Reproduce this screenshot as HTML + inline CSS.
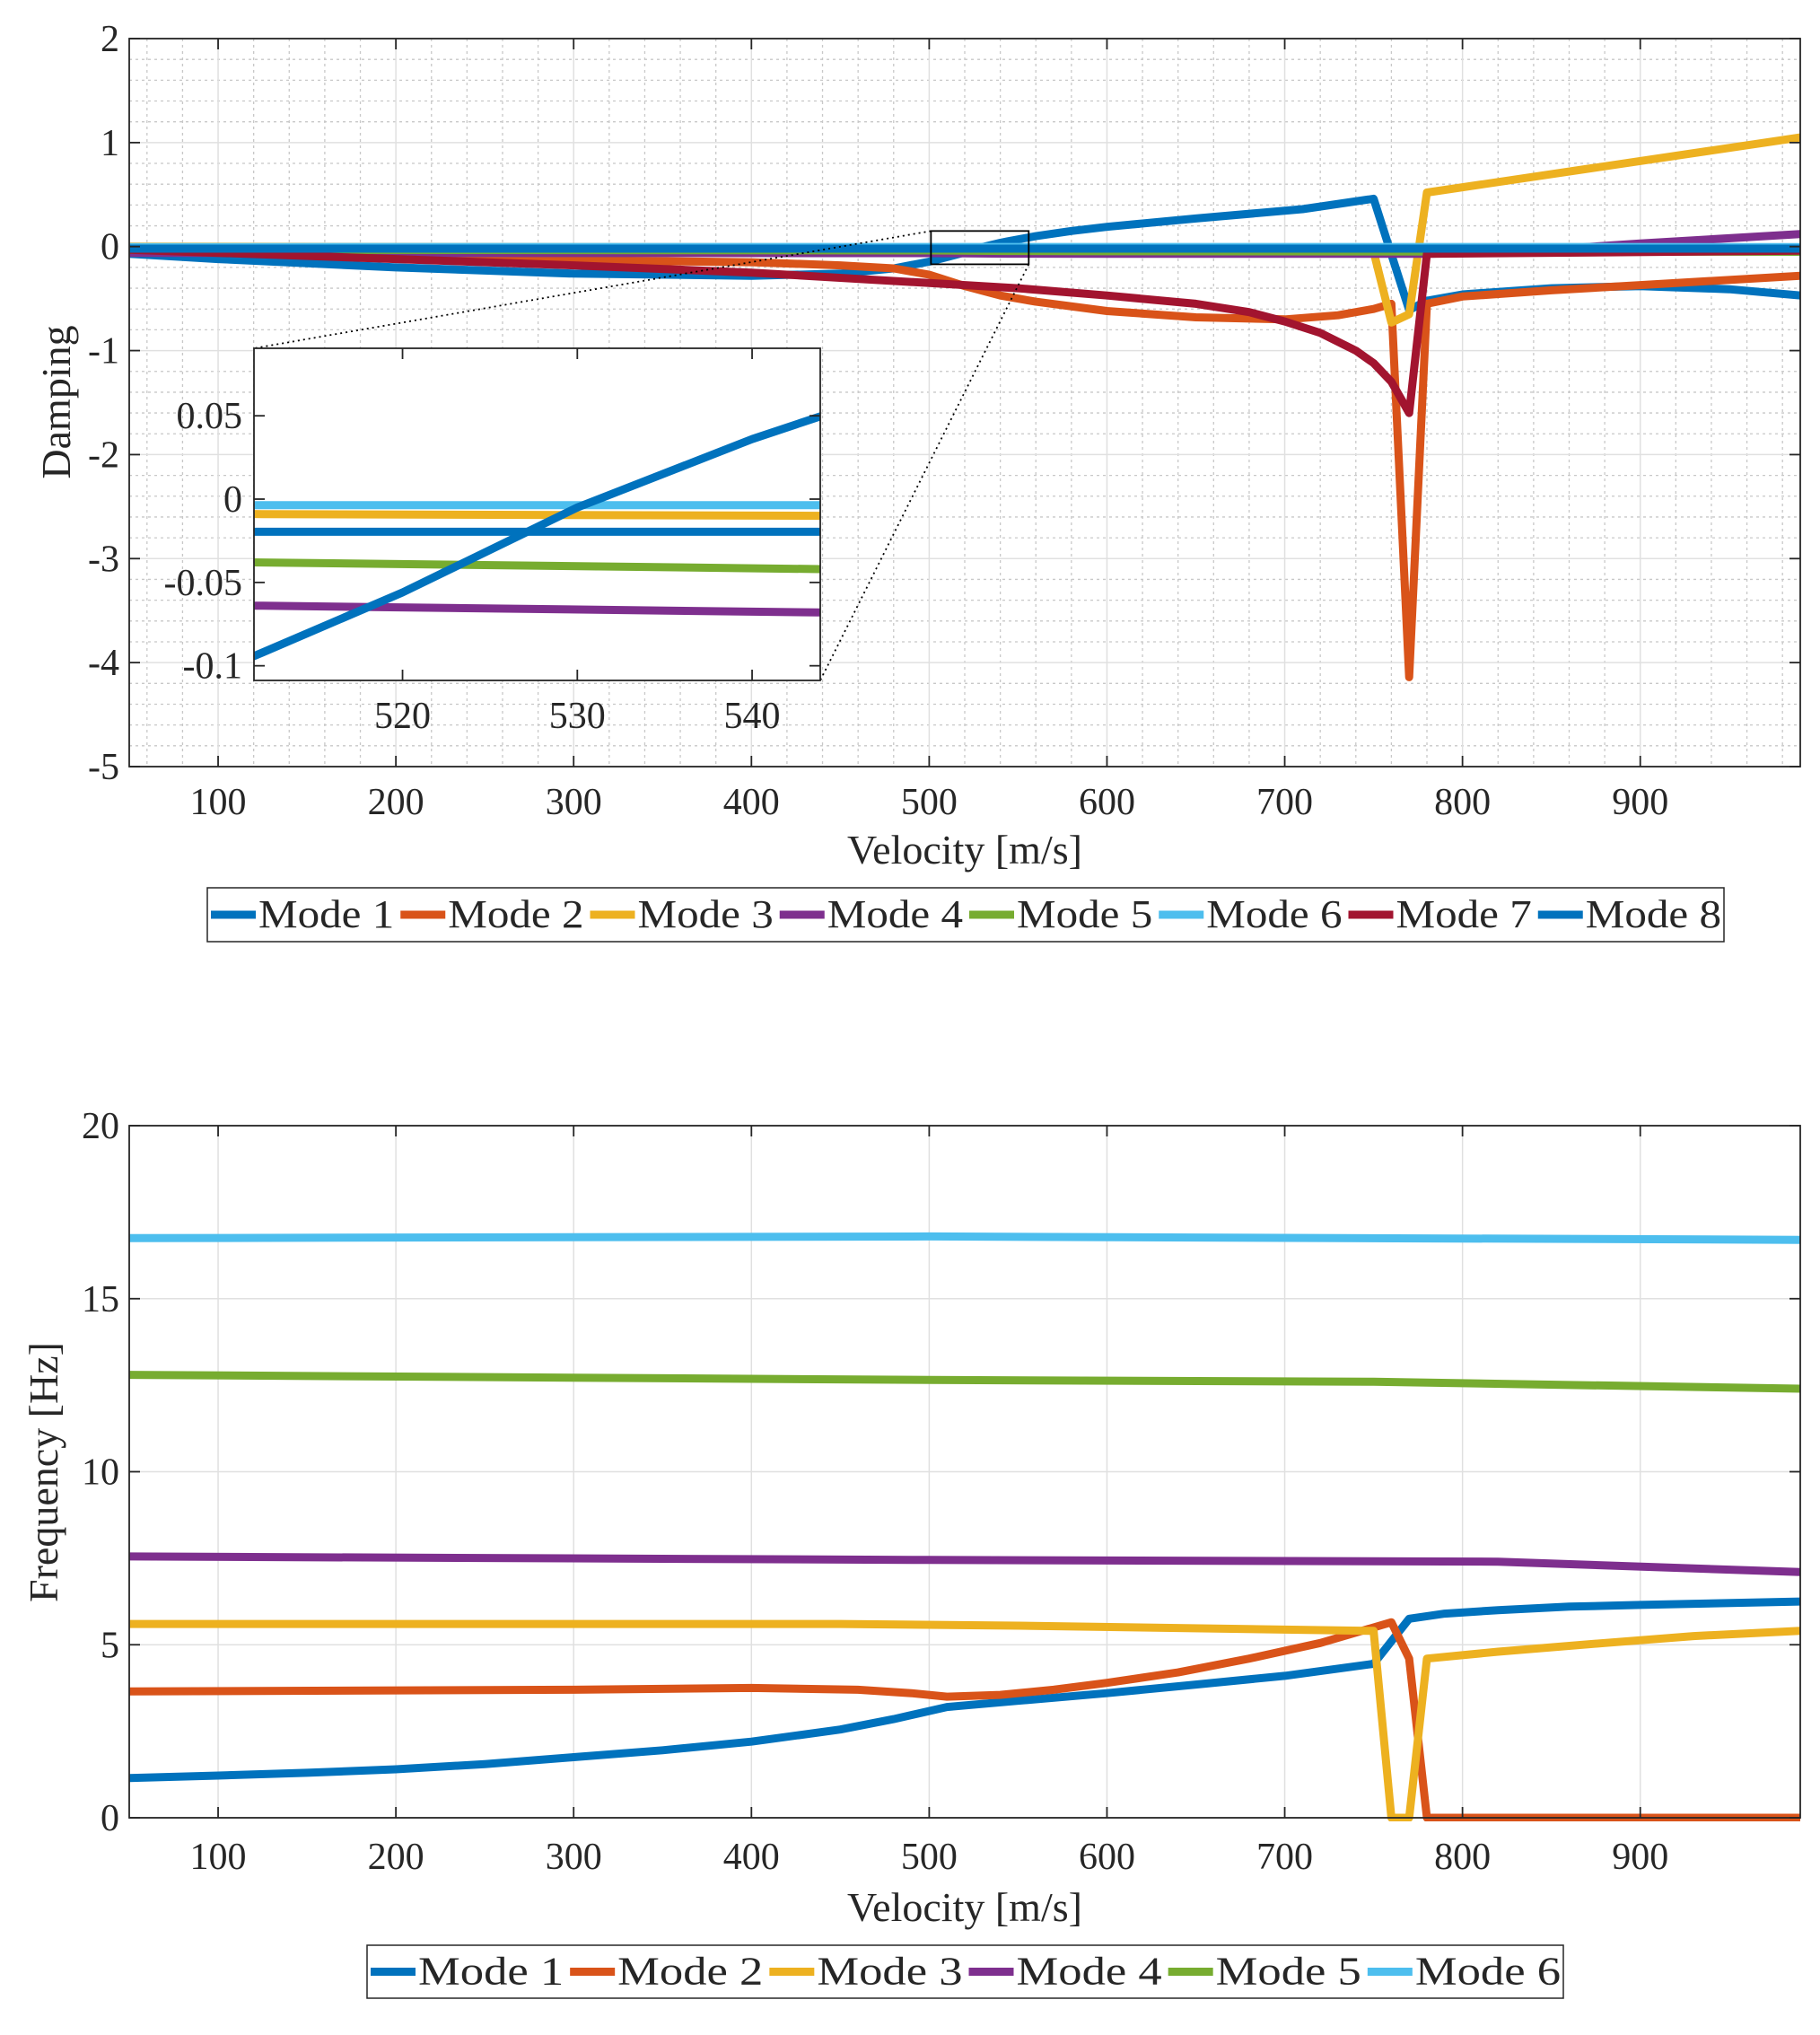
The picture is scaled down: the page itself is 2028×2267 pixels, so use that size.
<!DOCTYPE html>
<html><head><meta charset="utf-8"><style>
html,body{margin:0;padding:0;background:#fff;}
svg text{font-family:"Liberation Serif",serif;fill:#262626;}
</style></head><body>
<svg id="fig" width="2028" height="2262" viewBox="0 0 2028 2262" xmlns="http://www.w3.org/2000/svg">
<rect width="2028" height="2262" fill="#fff"/>
<g id="topChart"></g>
<g id="botChart"></g>
</svg>
<script>
// ---- Damping data ----
const colors = ["#0072BD","#D95319","#EDB120","#7E2F8E","#77AC30","#4DBEEE","#A2142F","#0072BD"];
const modeNames = ["Mode 1","Mode 2","Mode 3","Mode 4","Mode 5","Mode 6","Mode 7","Mode 8"];
const xTicks = [100,200,300,400,500,600,700,800,900];
const dampTicks = [2,1,0,-1,-2,-3,-4,-5];
const freqTicks = [20,15,10,5,0];
const insetXTicks = [520,530,540];
const insetYTicks = [0.05,0,-0.05,-0.1];
const insetYLabels = ["0.05","0","-0.05","-0.1"];

const d1v = [50,100,200,300,400,450,480,500,512,520,530,540,544,560,580,600,650,710,750,770,780,800,850,900,950,990];
const d1y = [-0.07,-0.12,-0.2,-0.26,-0.28,-0.26,-0.21,-0.145,-0.092,-0.056,-0.005,0.036,0.05,0.1,0.15,0.19,0.27,0.36,0.46,-0.61,-0.52,-0.46,-0.4,-0.38,-0.41,-0.47];
const d2v = [50,200,300,400,450,480,500,520,540,560,600,650,700,730,750,760,770,780,800,850,900,990];
const d2y = [-0.04,-0.1,-0.13,-0.15,-0.18,-0.21,-0.27,-0.38,-0.47,-0.53,-0.62,-0.68,-0.7,-0.66,-0.6,-0.55,-4.14,-0.55,-0.48,-0.42,-0.37,-0.28];
const d3v = [50,300,500,512,544,600,750,760,770,780,990];
const d3y = [0,-0.005,-0.008,-0.009,-0.010,-0.012,-0.05,-0.73,-0.65,0.52,1.05];
const d4v = [50,500,512,544,600,780,830,900,990];
const d4y = [-0.06,-0.063,-0.064,-0.068,-0.07,-0.07,-0.05,0.03,0.12];
const d5v = [50,500,512,544,600,990];
const d5y = [-0.03,-0.037,-0.038,-0.042,-0.045,-0.05];
const d6v = [50,500,544,990];
const d6y = [-0.004,-0.0036,-0.0036,-0.004];
const d7v = [50,200,300,400,500,550,600,650,680,700,720,740,750,760,765,770,780,990];
const d7y = [-0.03,-0.12,-0.18,-0.25,-0.35,-0.4,-0.47,-0.55,-0.63,-0.72,-0.83,-1.0,-1.12,-1.3,-1.45,-1.6,-0.07,-0.04];
const d8v = [50,500,544,990];
const d8y = [-0.0196,-0.0196,-0.0196,-0.0196];

// ---- Frequency data ----
const f1v = [50,100,150,200,250,300,350,400,450,480,510,550,600,650,700,750,770,790,820,860,900,990];
const f1y = [1.15,1.22,1.3,1.4,1.55,1.75,1.95,2.2,2.55,2.85,3.2,3.38,3.6,3.85,4.1,4.45,5.75,5.9,6.0,6.1,6.15,6.25];
const f2v = [50,300,400,460,490,510,540,570,600,640,680,720,760,770,780,990];
const f2y = [3.65,3.7,3.75,3.7,3.6,3.5,3.55,3.7,3.9,4.2,4.6,5.05,5.65,4.6,0,0];
const f3v = [50,450,550,750,760,770,780,820,880,930,990];
const f3y = [5.6,5.6,5.55,5.4,0,0,4.6,4.8,5.05,5.25,5.4];
const f4v = [50,500,820,990];
const f4y = [7.55,7.45,7.4,7.1];
const f5v = [50,500,750,990];
const f5y = [12.8,12.65,12.6,12.4];
const f6v = [50,500,990];
const f6y = [16.75,16.8,16.7];

const NS="http://www.w3.org/2000/svg";
const LW=9;
function mk(parent,tag,attrs,text){const e=document.createElementNS(NS,tag);for(const k in attrs)e.setAttribute(k,attrs[k]);if(text!==undefined)e.textContent=text;parent.appendChild(e);return e;}
function scale(d0,d1,r0,r1){return v=>r0+(v-d0)/(d1-d0)*(r1-r0);}
function pathD(vs,ys,sx,sy){return vs.map((v,i)=>(i?"L":"M")+sx(vs[i]).toFixed(1)+","+sy(ys[i]).toFixed(1)).join(" ");}

function drawGrid(g,L,R,T,B,sx,sy,xt,yt,minor,xmax){
  if(minor){
    for(let v=60;v<xmax;v+=20){if(v%100===0)continue;const l=mk(g,"line",{x1:sx(v),x2:sx(v),y1:T,y2:B,stroke:"#c8c8c8","stroke-width":1.3,"stroke-dasharray":"3,4"});}
    for(let k=-50;k<=20;k+=2){if(k%10===0)continue;const v=k/10;const l=mk(g,"line",{x1:L,x2:R,y1:sy(v),y2:sy(v),stroke:"#c8c8c8","stroke-width":1.3,"stroke-dasharray":"3,4"});}
  }
  xt.forEach(v=>{const l=mk(g,"line",{x1:sx(v),x2:sx(v),y1:T,y2:B,stroke:"#e0e0e0","stroke-width":1.5});});
  yt.forEach(v=>{const l=mk(g,"line",{x1:L,x2:R,y1:sy(v),y2:sy(v),stroke:"#e0e0e0","stroke-width":1.5});});
}
function drawFrame(g,L,R,T,B,sx,sy,xt,yt,ylabels,fs,xlabY,yRight){
  const f=mk(g,"rect",{x:L,y:T,width:R-L,height:B-T,fill:"none",stroke:"#262626","stroke-width":1.8});
  
  xt.forEach(v=>{
    mk(g,"line",{x1:sx(v),x2:sx(v),y1:B,y2:B-12,stroke:"#262626","stroke-width":1.8});
    mk(g,"line",{x1:sx(v),x2:sx(v),y1:T,y2:T+12,stroke:"#262626","stroke-width":1.8});
    const t=mk(g,"text",{x:sx(v),y:xlabY,"text-anchor":"middle","font-size":fs},String(v));
    
  });
  yt.forEach((v,i)=>{
    mk(g,"line",{x1:L,x2:L+12,y1:sy(v),y2:sy(v),stroke:"#262626","stroke-width":1.8});
    mk(g,"line",{x1:R,x2:R-12,y1:sy(v),y2:sy(v),stroke:"#262626","stroke-width":1.8});
    const t=mk(g,"text",{x:yRight,y:sy(v)+14,"text-anchor":"end","font-size":fs},ylabels[i]);
    
  });
}
function drawSeries(g,series,sx,sy,w,clipId){
  series.forEach((s,i)=>{
    const p=mk(g,"path",{d:pathD(s[0],s[1],sx,sy),fill:"none",stroke:s[2],"stroke-width":w,"stroke-linejoin":"round","clip-path":"url(#"+clipId+")"});
    
    
  });
}
function drawLegend(g,x0,y0,w,h,n){
  const b=mk(g,"rect",{x:x0,y:y0,width:w,height:h,fill:"#fff",stroke:"#262626","stroke-width":1.5});
  
  const step=w/n;
  for(let i=0;i<n;i++){
    const ex=x0+4+i*step;
    const gg=mk(g,"g",{});
    
    
    mk(gg,"line",{x1:ex,x2:ex+50,y1:y0+h/2,y2:y0+h/2,stroke:colors[i],"stroke-width":LW});
    mk(gg,"text",{x:ex+53,y:y0+h/2+14,"font-size":44,"textLength":step-60,"lengthAdjust":"spacingAndGlyphs"},modeNames[i]);
  }
}

const svgEl=document.getElementById("fig");
const defs=mk(svgEl,"defs",{});
// ===== Top chart =====
const topG=document.getElementById("topChart");
const L=144,R=2006,T=43,B=854;
const sx=scale(50,990,L,R), sy=scale(2,-5,T,B);
const c1=mk(defs,"clipPath",{id:"clipTop"});mk(c1,"rect",{x:L,y:T,width:R-L,height:B-T});
drawGrid(topG,L,R,T,B,sx,sy,xTicks,dampTicks,true,990);
const dampSeries=[[d1v,d1y,colors[0]],[d2v,d2y,colors[1]],[d3v,d3y,colors[2]],[d4v,d4y,colors[3]],[d5v,d5y,colors[4]],[d6v,d6y,colors[5]],[d7v,d7y,colors[6]],[d8v,d8y,colors[7]]];
drawSeries(topG,dampSeries,sx,sy,LW,"clipTop");
drawFrame(topG,L,R,T,B,sx,sy,xTicks,dampTicks,dampTicks.map(String),42,907,133);
let tx=mk(topG,"text",{x:(L+R)/2,y:962,"text-anchor":"middle","font-size":46},"Velocity [m/s]");

tx=mk(topG,"text",{x:0,y:0,"text-anchor":"middle","font-size":46,transform:"translate(78,448) rotate(-90)"},"Damping");


// zoom rectangle + connectors
const zx0=sx(501),zx1=sx(556),zy0=sy(0.15),zy1=sy(-0.17);
const IL=283,IR=914,IT=388,IB=758;
const zr=mk(topG,"rect",{x:zx0,y:zy0,width:zx1-zx0,height:zy1-zy0,fill:"none",stroke:"#000","stroke-width":1.8});

let cl=mk(topG,"line",{x1:zx0,y1:zy0,x2:IL,y2:IT,stroke:"#000","stroke-width":1.8,"stroke-dasharray":"2,4"});

cl=mk(topG,"line",{x1:zx1,y1:zy1,x2:IR,y2:IB,stroke:"#000","stroke-width":1.8,"stroke-dasharray":"2,4"});


// inset
const ins=mk(topG,"g",{});


mk(ins,"rect",{x:IL,y:IT,width:IR-IL,height:IB-IT,fill:"#fff"});
const isx=scale(511.5,543.9,IL,IR), isy=scale(0.0905,-0.1088,IT,IB);
const c2=mk(defs,"clipPath",{id:"clipIn"});mk(c2,"rect",{x:IL,y:IT,width:IR-IL,height:IB-IT});
drawSeries(ins,[dampSeries[5],dampSeries[2],dampSeries[7],dampSeries[4],dampSeries[3],dampSeries[0]],isx,isy,LW,"clipIn");
drawFrame(ins,IL,IR,IT,IB,isx,isy,insetXTicks,insetYTicks,insetYLabels,42,811,270);
drawLegend(topG,231,989,1690,60,8);

// ===== Bottom chart =====
const botG=document.getElementById("botChart");
const T2=1254,B2=2025;
const sy2=scale(20,0,T2,B2);
const c3=mk(defs,"clipPath",{id:"clipBot"});mk(c3,"rect",{x:L,y:T2-4,width:R-L,height:B2-T2+8});
drawGrid(botG,L,R,T2,B2,sx,sy2,xTicks,freqTicks,false,990);
const freqSeries=[[f1v,f1y,colors[0]],[f2v,f2y,colors[1]],[f3v,f3y,colors[2]],[f4v,f4y,colors[3]],[f5v,f5y,colors[4]],[f6v,f6y,colors[5]]];
drawSeries(botG,freqSeries,sx,sy2,LW,"clipBot");
drawFrame(botG,L,R,T2,B2,sx,sy2,xTicks,freqTicks,freqTicks.map(String),42,2082,133);
tx=mk(botG,"text",{x:(L+R)/2,y:2140,"text-anchor":"middle","font-size":46},"Velocity [m/s]");

tx=mk(botG,"text",{x:0,y:0,"text-anchor":"middle","font-size":46,transform:"translate(64,1640) rotate(-90)"},"Frequency [Hz]");

drawLegend(botG,409,2167,1333,59,6);
</script>
</body></html>
